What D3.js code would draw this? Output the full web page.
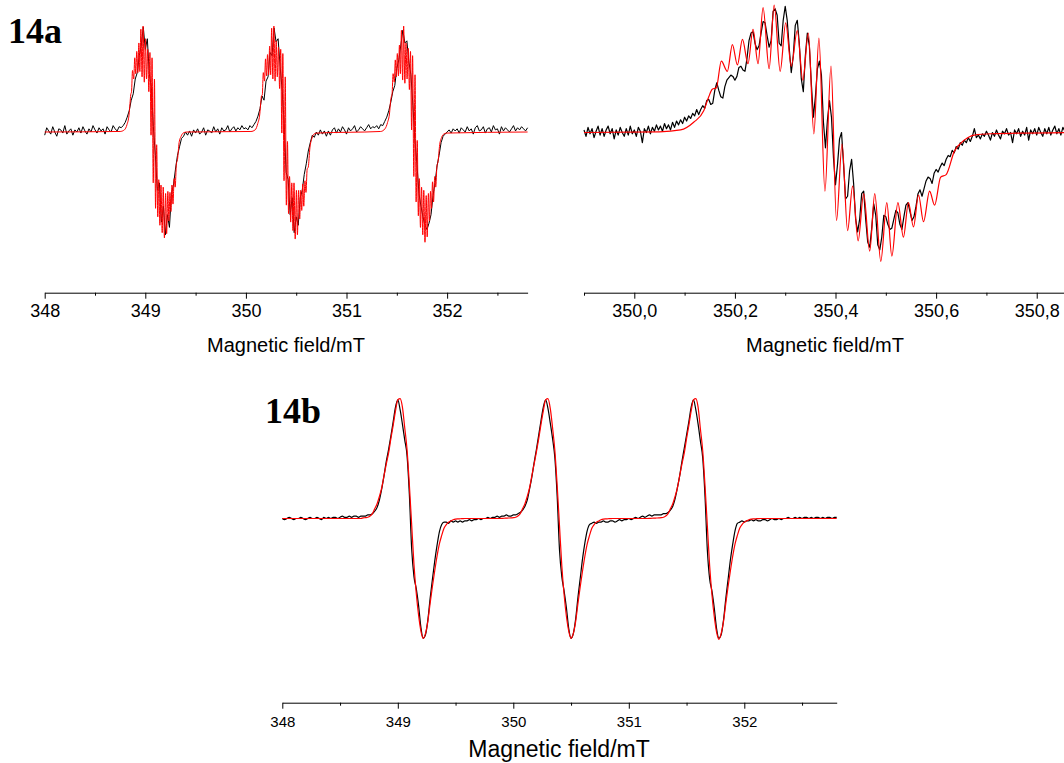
<!DOCTYPE html>
<html>
<head>
<meta charset="utf-8">
<script src="https://cdn.jsdelivr.net/npm/d3@7"></script>
<style>
  body { margin: 0; background: #fff; }
  svg { display: block; }
</style>
</head>
<body>
<div id="chart"></div>
<script>
// EPR spectra, 14a (full sweep + zoom on central line) and 14b
// intensities in arbitrary units, 0 = baseline, +/-100 ~ line extremes

// axis ticks
const ticksFull = [348, 349, 350, 351, 352];
const minorFull = [348.5, 349.5, 350.5, 351.5, 352.5];
const ticksZoom = [350.0, 350.2, 350.4, 350.6, 350.8];
const minorZoom = [349.9, 350.1, 350.3, 350.5, 350.7];

// 14a experimental, sweep 348.00 mT, step 0.02 mT
const expAStart = 348.0, expAStep = 0.02;
const expA = [
  -3, 4, 1, -2, 5, 0, -4, 3, 2, -1, 6, -2, 1, 3, -3, 2, 0, 4, -1, 5, 1, -2, 3, 0, 6, 2, -1, 4, 1, 3, -2, 5, 2, 0, 6, 3, 1, 5, 4,
  6, 9, 14, 20, 30, 36, 50, 56, 72, 82, 99, 78, 88, 55, 42, 5, -22, -55, -48, -85, -70, -97, -78, -90, -58, -50, -35, -22, -14, -6, -4, 0,
  -3, 1, -4, 2, -1, 3, -2, 0, 4, -3, 2, 1, -1, 5, 0, 3, -2, 4, 1, 2, 6, 0, 3, 5, 1, 4, 2, 6, 3,
  4, 2, 6, 4, 7, 10, 15, 22, 34, 30, 48, 52, 75, 72, 98, 85, 88, 62, 40, 8, -38, -45, -78, -62, -95, -80, -88, -62, -55, -40, -30, -18, -10, -3, -5, 0, -3, 2, -2, 1, -4,
  1, -3, 2, 4, -1, 3, 0, 5, 2, -2, 4, 1, 3, 6, 0, 2, 5, 3, 1, 4, 7, 3, 5,
  4, 6, 3, 7, 6, 10, 14, 20, 28, 38, 44, 60, 68, 82, 96, 84, 86, 66, 54, 25, -8, -30, -58, -70, -80, -88, -92, -86, -78, -60, -48, -32, -22, -10, -4, -2, 0, 2, -1, 3, 1,
  3, -1, 4, 2, 0, 5, 1, 3, -2, 4, 6, 1, 2, 5, -1, 3, 4, 0, 6, 2, 3, -2, 5, 1, 4, 2, 0, 3, 6, 1, 4, 2, 5, 3, 1, 4
];

// 14a simulation: extremes of the superhyperfine pattern, field offset from each line origin
const simOrigins = [348.70, 350.00, 351.29];
const simDelta = [
  0.050, 0.092, 0.118, 0.138, 0.148, 0.155, 0.163, 0.173, 0.185, 0.195, 0.205, 0.215, 0.226, 0.236, 0.246, 0.256,
  0.268, 0.278, 0.290, 0.301, 0.312, 0.324, 0.335, 0.346, 0.357, 0.367, 0.379, 0.391, 0.402, 0.413, 0.424, 0.434,
  0.445, 0.456, 0.468, 0.478, 0.490, 0.502, 0.512, 0.524, 0.535, 0.545, 0.555, 0.565, 0.575, 0.587, 0.597, 0.609,
  0.620, 0.636, 0.656, 0.676, 0.710
];
const simLow = [
  0.5, 2, 7, 16, 27, 35, 38, 58, 50, 70, 55, 76, 56, 84, 57, 97, 52, 100, 47, 88, 50, 78, 38, 75, -3, 70,
  -48, 50, -72, -12, -80, -45, -88, -50, -95, -52, -100, -58, -96, -56, -84, -57, -75, -50, -68, -44, -52, -30, -26, -10, -4, -1, 0
];
const simMid = [
  0.5, 2, 8, 17, 28, 34, 35, 56, 48, 69, 53, 73, 54, 81, 54, 98, 50, 100, 48, 86, 52, 80, 41, 78, -1, 74,
  -46, 52, -69, -9, -77, -42, -85, -48, -93, -48, -101, -55, -97, -55, -82, -55, -74, -49, -70, -46, -57, -35, -33, -15, -6, -2, -1
];
const simHigh = [
  0.5, 3, 9, 18, 29, 33, 36, 55, 47, 68, 52, 74, 53, 82, 55, 96, 49, 100, 46, 84, 50, 79, 40, 76, 2, 72,
  -42, 54, -66, -8, -79, -44, -90, -52, -97, -55, -104, -60, -99, -58, -84, -56, -72, -47, -66, -42, -52, -32, -28, -12, -5, -2, -1
];

// 14a zoom on central line, experimental, step 0.004 mT
const expBStart = 349.9, expBStep = 0.004;
const expB = [
  2, -3, 4, -1, 3, -4, 1, 5, -2, 3,
  -3, 2, 5, -1, 3, -5, 2, -2, 4, 0,
  -3, 3, -2, 5, -1, 2, -3, 4, 1, -8,
  3, 0, 5, -1, 4, 1, 6, 2, 5, 1,
  7, 3, 6, 2, 8, 4, 9, 6, 10, 7,
  12, 9, 13, 11, 15, 13, 18, 14, 18, 21,
  19, 25, 26, 22, 23, 33, 39, 33, 28, 27,
  36, 41, 43, 45, 44, 41, 44, 51, 52, 49,
  48, 58, 72, 78, 79, 70, 65, 68, 78, 87,
  86, 76, 67, 72, 95, 97, 92, 70, 68, 88,
  99, 88, 66, 47, 60, 84, 88, 70, 42, 32,
  60, 78, 68, 38, 12, 28, 50, 56, 45, 8,
  -12, 10, 25, 12, -20, -41, -25, -5, 0, -25,
  -52, -50, -30, -21, -40, -68, -78, -68, -48, -46,
  -68, -86, -90, -75, -56, -65, -88, -92, -82, -65,
  -66, -72, -76, -75, -68, -61, -63, -72, -76, -66,
  -57, -55, -62, -69, -66, -58, -48, -45, -50, -44,
  -38, -35, -36, -40, -32, -29, -31, -27, -24, -26,
  -21, -18, -19, -14, -16, -11, -13, -8, -10, -6,
  -8, -4, -7, -3, 3, -4, -2, -5, -1, -3,
  1, -2, -6, 0, -3, 2, -2, -5, 1, -1,
  3, -2, 0, -8, 2, -1, 3, -3, 1, -2,
  4, -6, 2, -1, 3, -2, 4, 0, -3, 3,
  -1, 4, -2, 2, 5, -1, 3, -2, 4, 1,
  3
];

// 14b, step 0.02 mT from 348.00
const expCStart = 348.0, expCStep = 0.02;
const expC = [
  0, -1, 0, 1, 0, -1, 0, 0, 1, 0, -1, 0, 1, 0, 0, 1, 0, -1, 1, 0, 1, 0, 1, 1, 0, 1, 2, 1, 1, 2, 1, 2, 2, 1, 2,
  2, 2, 3, 3, 4, 6, 9, 15, 24, 35, 47, 57, 68, 80, 92, 98, 90, 78, 65, 52, 20, -25, -48, -58, -72, -90, -99, -96, -84, -66, -50, -35, -22, -11, -5, -3, -3, -4, -2, -3, -2,
  -3, -2, -3, -2, -2, -1, -2, -1, -1, 0, -1, 0, 0, 1, 0, 1, 1, 2, 1, 2, 2, 3, 2,
  2, 3, 3, 4, 5, 7, 10, 15, 24, 34, 46, 57, 69, 81, 92, 98, 91, 79, 66, 50, 18, -26, -48, -60, -74, -91, -99, -95, -83, -65, -49, -33, -20, -10, -5, -4, -3, -4, -3, -3, -2,
  -3, -3, -2, -2, -3, -2, -1, -2, -1, -1, 0, -1, 0, 1, 0, 1, 2, 1, 2, 3, 2, 3, 3,
  3, 3, 4, 4, 5, 7, 10, 16, 25, 35, 47, 58, 69, 80, 92, 98, 90, 78, 64, 50, 18, -26, -50, -60, -74, -91, -99, -96, -84, -66, -50, -34, -21, -10, -4, -3, -2, -3, -2, -2, -1,
  -2, -1, -2, -2, -1, -1, -2, -1, 0, -1, -1, 0, -1, 0, 0, 1, 0, 0, 1, 0, 1, 0, 1, 1, 0, 1, 0, 1, 1, 0, 1, 0, 1, 1, 0, 1, 1
];
const simC = [
  0, 0, 0, 0, 0, 0, 0, 0, 0, 0, 0, 0, 0, 0, 0, 0, 0, 0, 0, 0, 0, 0, 0, 0, 0, 0, 0, 0, 0, 0, 0, 0, 0, 0, 0,
  0.5, 0.7, 1, 2, 4, 8, 12, 18, 25, 35, 45, 54, 66, 77, 89, 98, 99, 92, 75, 57, 28, -5, -38, -62, -80, -93, -99, -95, -85, -70, -56, -43, -31, -21, -14, -8, -5, -3, -2, -1, -0.5,
  -0.3, -0.2, -0.1, 0, 0, 0, 0, 0, 0, 0, 0, 0, 0, 0, 0, 0, 0, 0, 0, 0.1, 0.2, 0.3, 0.4,
  0.5, 0.7, 1, 2, 4, 8, 12, 18, 25, 35, 45, 55, 66, 78, 89, 98, 99, 91, 75, 56, 27, -6, -39, -63, -81, -93, -99, -95, -85, -70, -56, -43, -31, -21, -14, -8, -5, -3, -2, -1, -0.5,
  -0.3, -0.2, -0.1, 0, 0, 0, 0, 0, 0, 0, 0, 0, 0, 0, 0, 0, 0, 0, 0, 0.1, 0.2, 0.3, 0.4,
  0.5, 0.7, 1, 2, 4, 8, 12, 18, 25, 35, 45, 54, 66, 77, 89, 98, 99, 92, 74, 56, 27, -6, -39, -63, -81, -94, -100, -95, -85, -70, -56, -43, -31, -21, -14, -8, -5, -3, -2, -1, -0.5,
  -0.3, -0.2, -0.1, 0, 0, 0, 0, 0, 0, 0, 0, 0, 0, 0, 0, 0, 0, 0, 0, 0, 0, 0, 0, 0, 0, 0, 0, 0, 0, 0, 0, 0, 0, 0, 0, 0, 0
];

const width = 1064, height = 763;
const sansFont = "'Liberation Sans', Arial, sans-serif";
const serifFont = "'Liberation Serif', 'Times New Roman', serif";

const svg = d3.select("#chart")
    .append("svg")
    .attr("width", width)
    .attr("height", height);

let grid = function (start, step, vals) {
    return vals.map((v, i) => [start + i * step, v]);
};

let simLine = function (k, vals) {
    return vals.map((v, i) => [simOrigins[k] + simDelta[i], v]);
};

let drawCurve = function (data, x, y, color, width, curve) {
    svg.append("path")
        .datum(data)
        .attr("fill", "none")
        .attr("stroke", color)
        .attr("stroke-width", width)
        .attr("stroke-linejoin", "round")
        .attr("d", d3.line()
            .x(d => x(d[0]))
            .y(d => y(d[1]))
            .curve(curve));
};

let drawAxis = function (x, yPos, ticks, minor, fmt, fontSize, pad) {
    const gMinor = svg.append("g")
        .attr("transform", "translate(0," + yPos + ")")
        .call(d3.axisBottom(x).tickValues(minor).tickSize(3).tickSizeOuter(0).tickFormat(""));
    gMinor.select(".domain").remove();

    const g = svg.append("g")
        .attr("transform", "translate(0," + yPos + ")")
        .call(d3.axisBottom(x).tickValues(ticks).tickSize(6).tickSizeOuter(0).tickPadding(pad).tickFormat(fmt));
    g.attr("font-family", sansFont).attr("font-size", fontSize);
    g.selectAll(".tick text").attr("fill", "#000");
};

let axisTitle = function (cx, baseline, size) {
    svg.append("text")
        .attr("x", cx)
        .attr("y", baseline)
        .attr("text-anchor", "middle")
        .attr("font-family", sansFont)
        .attr("font-size", size)
        .attr("fill", "#000")
        .text("Magnetic field/mT");
};

let panelLabel = function (x, baseline, txt) {
    svg.append("text")
        .attr("x", x)
        .attr("y", baseline)
        .attr("font-family", serifFont)
        .attr("font-weight", "bold")
        .attr("font-size", 36)
        .attr("fill", "#000")
        .text(txt);
};

const commaFmt = d3.formatLocale({ decimal: ",", thousands: ".", grouping: [3], currency: ["", ""] }).format(".1f");

// ---- 14a, full sweep
const xA = d3.scaleLinear().domain([348, 352.8]).range([44.7, 527.6]);
const yA = d3.scaleLinear().domain([-100, 100]).range([238, 26]);

const simA = [[348.0, 0]]
    .concat(simLine(0, simLow), simLine(1, simMid), simLine(2, simHigh))
    .concat([[352.8, 0]]);

drawCurve(grid(expAStart, expAStep, expA), xA, yA, "#000", 1, d3.curveLinear);
drawCurve(simA, xA, yA, "#ff0000", 1, d3.curveMonotoneX);
drawAxis(xA, 292.7, ticksFull, minorFull, d3.format("d"), 18, 6);
axisTitle(286, 352, 20);
panelLabel(8, 43, "14a");

// ---- 14a, central line
const xB = d3.scaleLinear().domain([349.9, 350.86]).range([584, 1066.9]);
const yB = d3.scaleLinear().domain([-100, 100]).range([260, 5]);

const simB = [[349.9, 0]].concat(simLine(1, simMid), [[350.86, 0]]);

drawCurve(grid(expBStart, expBStep, expB), xB, yB, "#000", 1.2, d3.curveLinear);
drawCurve(simB, xB, yB, "#ff0000", 1.2, d3.curveMonotoneX);
drawAxis(xB, 292.7, ticksZoom, minorZoom, commaFmt, 18, 6);
axisTitle(825, 352, 20);

// ---- 14b
const xC = d3.scaleLinear().domain([348, 352.8]).range([282.3, 836.7]);
const yC = d3.scaleLinear().domain([-100, 100]).range([639.5, 397.5]);

drawCurve(grid(expCStart, expCStep, expC), xC, yC, "#000", 1.2, d3.curveMonotoneX);
drawCurve(grid(expCStart, expCStep, simC), xC, yC, "#ff0000", 1.2, d3.curveMonotoneX);
drawAxis(xC, 702.7, ticksFull, minorFull, d3.format("d"), 15, 8);
axisTitle(559, 757, 23);
panelLabel(265, 423, "14b");
</script>
</body>
</html>
